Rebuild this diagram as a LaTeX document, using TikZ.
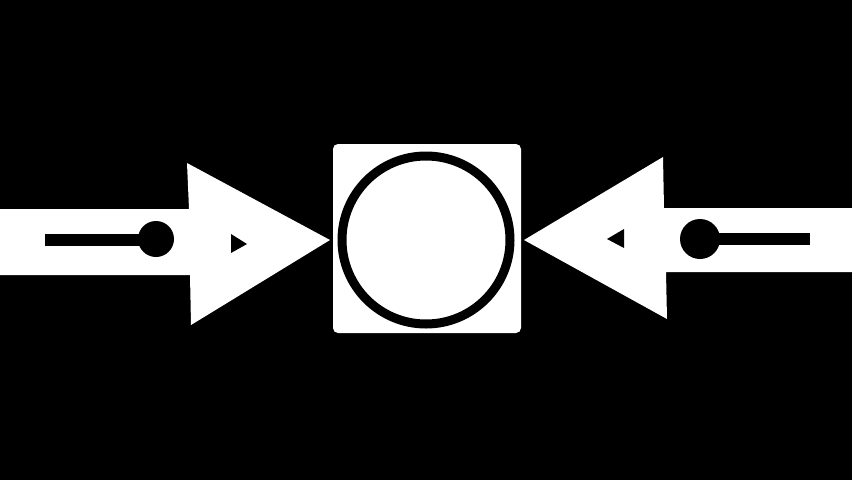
\documentclass[tikz,border=0pt]{standalone}
\usetikzlibrary{calc}

\begin{document}
\begin{tikzpicture}[x=1pt, y=-1pt,
  flow/.style = {fill=white},
  pin/.style = {fill=black},
  valvebox/.style = {shape=rectangle, fill=white, rounded corners=5pt,
    minimum width=188pt, minimum height=189pt, inner sep=0pt},
  ring/.style = {shape=circle, draw=black, line width=9pt,
    minimum size=168pt, inner sep=0pt}]
  \fill[black] (0,0) rectangle (852,480);
  % center element
  \node[valvebox] (box) at (427,238.5) {};
  \node[ring] (disc) at (426,240) {};
  % left arrow
  \fill[flow] (0,209) -- (189,209) -- (187,163) -- (330,240)
    -- (191,325) -- (190,275) -- (0,275) -- cycle;
  \fill[pin] (45,234) rectangle (145,246);
  \fill[pin] (156,239) circle (18pt);
  \fill[pin] (231,234) -- (247,244) -- (231,253) -- cycle;
  % right arrow
  \fill[flow] (852,208) -- (664,208) -- (663,157) -- (524,240)
    -- (667,319) -- (666,272) -- (852,272) -- cycle;
  \fill[pin] (695,233) rectangle (810,245);
  \fill[pin] (700,239) circle (20pt);
  \fill[pin] (624,229) -- (607,239) -- (624,248) -- cycle;
\end{tikzpicture}
\end{document}
